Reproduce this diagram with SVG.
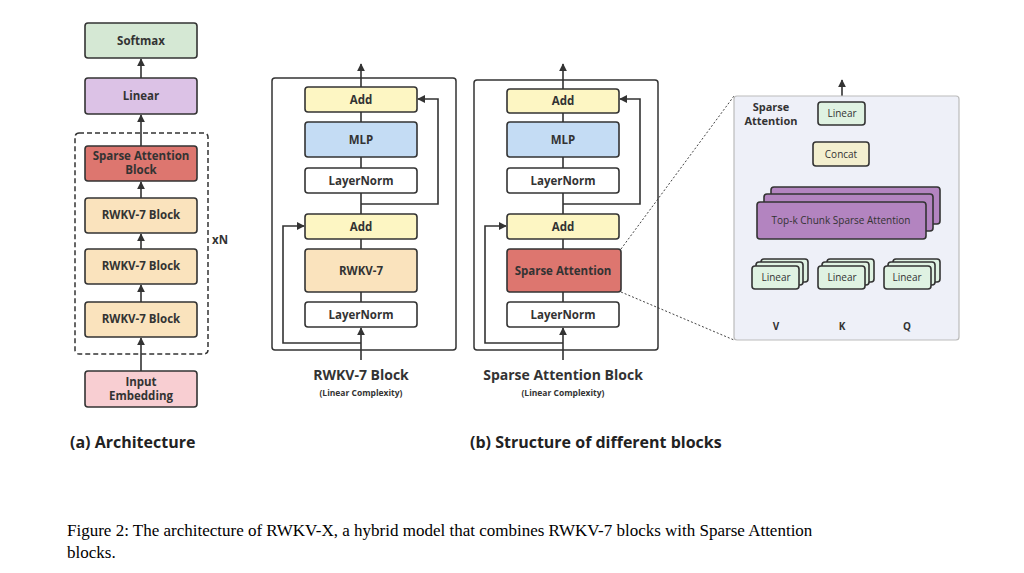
<svg xmlns="http://www.w3.org/2000/svg" width="1024" height="573" viewBox="0 0 1024 573">
<defs>
<marker id="ah" viewBox="0 0 10 10" refX="9" refY="5" markerWidth="5" markerHeight="5" orient="auto"><path d="M0,0 L10,5 L0,10 z" fill="#333"/></marker>
<style>
.b{stroke:#333;stroke-width:1.6}
.t{font-family:"Open Sans","DejaVu Sans",sans-serif;font-weight:bold;fill:#333;text-anchor:middle;font-size:11.5px}
.n{font-family:"Open Sans","DejaVu Sans",sans-serif;fill:#333;text-anchor:middle;font-size:10px}
.c{stroke:#333;stroke-width:1.6;fill:none}
.a{marker-end:url(#ah)}
</style>
</defs>
<rect width="1024" height="573" fill="#fff"/>
<g id="arch">
<rect x="75" y="133" width="133" height="221" rx="4" fill="none" stroke="#333" stroke-width="1.5" stroke-dasharray="5,3"/>
<text class="t" x="220" y="244">xN</text>
<g id="softmax"><rect class="b" x="85" y="23" width="112" height="35" rx="3" fill="#d5e8d4"/><text class="t" x="141" y="45">Softmax</text></g>
<g id="linear"><rect class="b" x="85" y="78" width="112" height="36" rx="3" fill="#dcc2e6"/><text class="t" x="141" y="100">Linear</text></g>
<g id="sab"><rect class="b" x="85" y="146" width="112" height="35" rx="3" fill="#dd766f"/><text class="t" x="141" y="160">Sparse Attention</text><text class="t" x="141" y="174">Block</text></g>
<g id="rw1"><rect class="b" x="85" y="198" width="112" height="35" rx="3" fill="#fae3bd"/><text class="t" x="141" y="219">RWKV-7 Block</text></g>
<g id="rw2"><rect class="b" x="85" y="249" width="112" height="35" rx="3" fill="#fae3bd"/><text class="t" x="141" y="270">RWKV-7 Block</text></g>
<g id="rw3"><rect class="b" x="85" y="302" width="112" height="35" rx="3" fill="#fae3bd"/><text class="t" x="141" y="323">RWKV-7 Block</text></g>
<g id="inp"><rect class="b" x="85" y="371" width="112" height="36" rx="3" fill="#f8ced2"/><text class="t" x="141" y="386">Input</text><text class="t" x="141" y="400">Embedding</text></g>
</g>
<g id="connectors">
<path class="c a" d="M141 78V59"/><path class="c a" d="M141 146V115"/><path class="c a" d="M141 198V182"/><path class="c a" d="M141 249V234"/><path class="c a" d="M141 302V285"/><path class="c a" d="M141 371V338"/>
<!-- RWKV block -->
<path class="c a" d="M361 87V64"/><path class="c" d="M361 122V112M361 168V157M361 214V193M361 249V239M361 302V292"/>
<path class="c a" d="M361 204H438V99H418"/>
<path class="c a" d="M361 343H283V226H304"/>
<path class="c a" d="M361 360V328"/>
<!-- Sparse block -->
<path class="c a" d="M563 89V64"/><path class="c" d="M563 122V112M563 168V157M563 214V193M563 249V239M563 302V292"/>
<path class="c a" d="M563 204H640V99H620"/>
<path class="c a" d="M563 343H485V226H506"/>
<path class="c a" d="M563 360V328"/>
<!-- detail -->
<path d="M621 249L734 96M621 292L734 340" stroke="#444" stroke-width="1" stroke-dasharray="2,2" fill="none"/>
<path class="c a" d="M842 102V80"/><path class="c a" d="M842 142V126"/><path class="c a" d="M842 187V167"/>
<path class="c a" d="M776 266V240"/><path class="c a" d="M842 266V240"/><path class="c a" d="M907 266V240"/>
<path class="c a" d="M776 312V290"/><path class="c a" d="M842 312V290"/><path class="c a" d="M907 312V290"/>
</g>
<g id="rwkvblock">
<rect x="272" y="78" width="184" height="272" rx="3" fill="none" stroke="#333" stroke-width="1.5"/>
<g id="r-add1"><rect class="b" x="305" y="87" width="112" height="25" rx="3" fill="#fdf6c3"/><text class="t" x="361" y="104">Add</text></g>
<g id="r-mlp"><rect class="b" x="305" y="122" width="112" height="35" rx="3" fill="#c4dcf4"/><text class="t" x="361" y="144">MLP</text></g>
<g id="r-ln1"><rect class="b" x="305" y="168" width="112" height="25" rx="3" fill="#fff"/><text class="t" x="361" y="185">LayerNorm</text></g>
<g id="r-add2"><rect class="b" x="305" y="214" width="112" height="25" rx="3" fill="#fdf6c3"/><text class="t" x="361" y="231">Add</text></g>
<g id="r-rwkv"><rect class="b" x="305" y="249" width="112" height="43" rx="3" fill="#fae3bd"/><text class="t" x="361" y="275">RWKV-7</text></g>
<g id="r-ln2"><rect class="b" x="305" y="302" width="112" height="25" rx="3" fill="#fff"/><text class="t" x="361" y="319">LayerNorm</text></g>
<text class="t" x="361" y="380" style="font-size:14px">RWKV-7 Block</text>
<text class="t" x="361" y="396" style="font-size:8.5px">(Linear Complexity)</text>
</g>
<g id="sparseblock">
<rect x="474" y="80" width="184" height="270" rx="3" fill="none" stroke="#333" stroke-width="1.5"/>
<g id="s-add1"><rect class="b" x="507" y="89" width="112" height="24" rx="3" fill="#fdf6c3"/><text class="t" x="563" y="105">Add</text></g>
<g id="s-mlp"><rect class="b" x="507" y="122" width="112" height="35" rx="3" fill="#c4dcf4"/><text class="t" x="563" y="144">MLP</text></g>
<g id="s-ln1"><rect class="b" x="507" y="168" width="112" height="25" rx="3" fill="#fff"/><text class="t" x="563" y="185">LayerNorm</text></g>
<g id="s-add2"><rect class="b" x="507" y="214" width="112" height="25" rx="3" fill="#fdf6c3"/><text class="t" x="563" y="231">Add</text></g>
<g id="s-sa"><rect class="b" x="507" y="249" width="114" height="43" rx="3" fill="#dd766f"/><text class="t" x="563" y="275">Sparse Attention</text></g>
<g id="s-ln2"><rect class="b" x="507" y="302" width="112" height="25" rx="3" fill="#fff"/><text class="t" x="563" y="319">LayerNorm</text></g>
<text class="t" x="563" y="380" style="font-size:14px">Sparse Attention Block</text>
<text class="t" x="563" y="396" style="font-size:8.5px">(Linear Complexity)</text>
</g>
<g id="detail">
<rect x="734" y="96" width="225" height="244" rx="3" fill="#eef0f8" stroke="#bbb" stroke-width="1.2"/>
<text class="t" x="771" y="111" style="font-size:11px">Sparse</text>
<text class="t" x="771" y="125" style="font-size:11px">Attention</text>
<g id="d-lin"><rect class="b" x="818" y="102" width="47" height="23" rx="3" fill="#dff2e2"/><text class="n" x="842" y="117">Linear</text></g>
<g id="d-cat"><rect class="b" x="813" y="142" width="56" height="24" rx="3" fill="#f3efcf"/><text class="n" x="841" y="158">Concat</text></g>
<g id="d-topk">
<rect class="b" x="771" y="187" width="169" height="37" rx="3" fill="#b384c0"/>
<rect class="b" x="764" y="194" width="169" height="37" rx="3" fill="#b384c0"/>
<rect class="b" x="757" y="202" width="169" height="37" rx="3" fill="#b384c0"/>
<text class="n" x="841" y="224">Top-k Chunk Sparse Attention</text></g>
<g id="d-v"><rect class="b" x="761" y="259" width="47" height="23" rx="3" fill="#dff2e2"/><rect class="b" x="756" y="262" width="47" height="23" rx="3" fill="#dff2e2"/><rect class="b" x="752" y="266" width="47" height="23" rx="3" fill="#dff2e2"/><text class="n" x="776" y="281">Linear</text></g>
<g id="d-k"><rect class="b" x="827" y="259" width="47" height="23" rx="3" fill="#dff2e2"/><rect class="b" x="822" y="262" width="47" height="23" rx="3" fill="#dff2e2"/><rect class="b" x="818" y="266" width="47" height="23" rx="3" fill="#dff2e2"/><text class="n" x="842" y="281">Linear</text></g>
<g id="d-q"><rect class="b" x="893" y="259" width="47" height="23" rx="3" fill="#dff2e2"/><rect class="b" x="888" y="262" width="47" height="23" rx="3" fill="#dff2e2"/><rect class="b" x="884" y="266" width="47" height="23" rx="3" fill="#dff2e2"/><text class="n" x="907" y="281">Linear</text></g>
<text class="t" x="776" y="330" style="font-size:10px">V</text>
<text class="t" x="842" y="330" style="font-size:10px">K</text>
<text class="t" x="907" y="330" style="font-size:10px">Q</text>
</g>
<text x="70" y="448" style="font-family:'Open Sans','DejaVu Sans',sans-serif;font-weight:bold;font-size:16px;fill:#222">(a) Architecture</text>
<text x="470" y="448" style="font-family:'Open Sans','DejaVu Sans',sans-serif;font-weight:bold;font-size:16px;fill:#222">(b) Structure of different blocks</text>
<text x="67" y="536" style="font-family:'Liberation Serif',serif;font-size:17px;fill:#000">Figure 2: The architecture of RWKV-X, a hybrid model that combines RWKV-7 blocks with Sparse Attention</text>
<text x="67" y="558" style="font-family:'Liberation Serif',serif;font-size:17px;fill:#000">blocks.</text>
</svg>
